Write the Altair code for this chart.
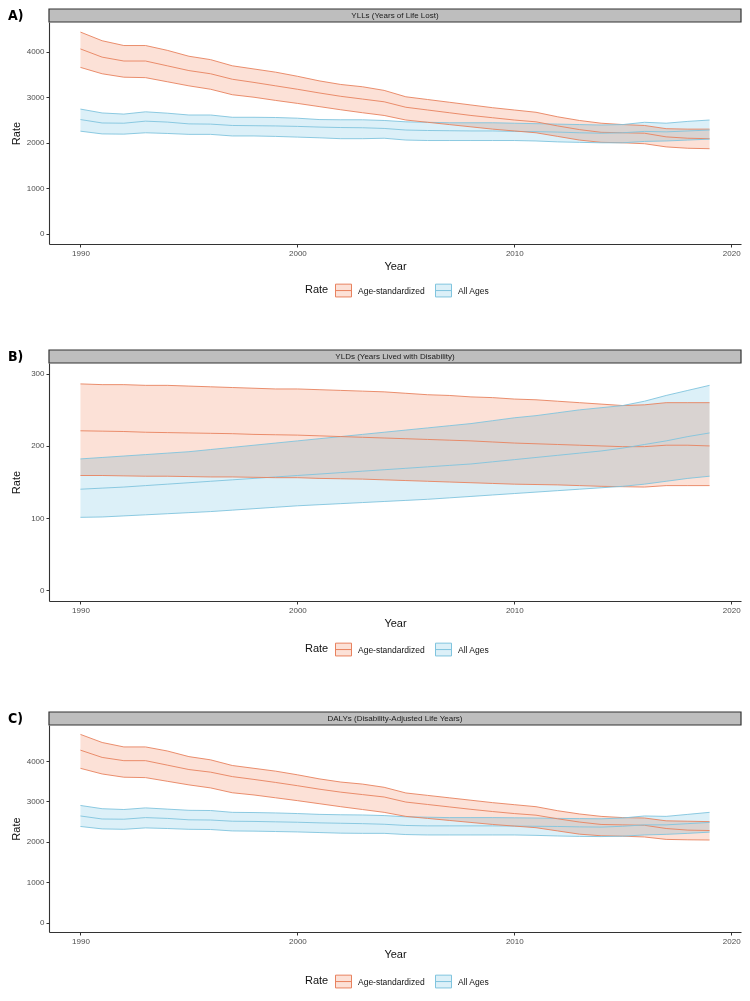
import altair as alt
import pandas as pd

years = list(range(1990, 2020))
rates = ["Age-standardized", "All Ages"]

# ---- A) YLLs
yll_as_upper = [4430, 4240, 4135, 4135, 4030, 3900, 3825, 3690, 3620, 3550, 3460, 3360, 3280, 3230, 3150,
                3010, 2950, 2890, 2830, 2770, 2720, 2670, 2570, 2490, 2430, 2400, 2380, 2310, 2300, 2300]
yll_as_mean = [4060, 3880, 3795, 3795, 3690, 3585, 3515, 3395, 3325, 3250, 3175, 3095, 3020, 2960, 2900,
               2780, 2720, 2660, 2600, 2550, 2500, 2460, 2370, 2290, 2230, 2220, 2210, 2130, 2100, 2090]
yll_as_lower = [3655, 3515, 3440, 3430, 3340, 3250, 3175, 3055, 3000, 2930, 2865, 2795, 2725, 2660, 2600,
                2500, 2450, 2400, 2350, 2300, 2260, 2220, 2140, 2060, 2010, 2000, 1980, 1910, 1880, 1870]
yll_aa_upper = [2740, 2655, 2630, 2680, 2650, 2610, 2610, 2560, 2560, 2555, 2540, 2510, 2505, 2505, 2490,
                2460, 2450, 2440, 2440, 2440, 2430, 2420, 2410, 2400, 2390, 2400, 2450, 2430, 2470, 2500]
yll_aa_mean = [2510, 2435, 2430, 2475, 2455, 2415, 2410, 2380, 2375, 2370, 2360, 2345, 2335, 2330, 2315,
               2280, 2270, 2265, 2260, 2260, 2250, 2245, 2235, 2220, 2210, 2220, 2250, 2240, 2260, 2280]
yll_aa_lower = [2255, 2195, 2190, 2220, 2205, 2185, 2185, 2150, 2150, 2140, 2125, 2110, 2090, 2090, 2100,
                2060, 2050, 2050, 2050, 2050, 2050, 2040, 2020, 2010, 2000, 2000, 2030, 2040, 2060, 2080]

# ---- B) YLDs
yld_as_upper = [286, 285, 285, 284, 284, 283, 282, 281, 280, 279, 279, 278, 277, 276, 275,
                273, 271, 270, 268, 267, 265, 264, 262, 260, 258, 256, 257, 260, 260, 260]
yld_as_mean = [221, 220.5, 220, 219, 218.5, 218, 217.5, 217, 216, 215.5, 215, 214, 213, 212, 211,
               210, 209, 208, 207, 205.5, 204, 203, 202, 201, 200, 199, 199, 201, 201, 200]
yld_as_lower = [159, 159, 158.5, 158, 158, 157.5, 157, 157, 156.5, 156, 156, 155, 154.5, 154, 153,
                152, 151, 150, 149, 148, 147, 146.5, 146, 145, 144, 143.5, 143, 145, 145, 145]
yld_aa_upper = [182, 184, 186, 188, 190, 192, 195, 198, 201, 204, 207, 210, 213, 216, 219,
                222, 225, 228, 231, 235, 239, 242, 246, 250, 253, 256, 262, 270, 277, 284]
yld_aa_mean = [140, 141.5, 143, 145, 147, 149, 151, 153, 155, 157, 159, 161, 163, 165, 167,
               169, 171, 173, 175, 178, 181, 184, 187, 190, 193, 197, 202, 207, 213, 218]
yld_aa_lower = [101, 101.5, 103, 104.5, 106, 107.5, 109, 111, 113, 115, 117, 118.5, 120, 121.5, 123,
                124.5, 126, 128, 130, 132, 134, 136, 138, 140, 142, 144, 147, 151, 155, 158]

# ---- C) DALYs
daly_as_upper = [4660, 4460, 4350, 4350, 4250, 4110, 4030, 3890, 3820, 3750, 3660, 3560, 3480, 3430, 3350,
                 3210, 3150, 3090, 3030, 2970, 2920, 2870, 2770, 2690, 2630, 2600, 2590, 2520, 2510, 2500]
daly_as_mean = [4270, 4090, 4010, 4010, 3900, 3790, 3725, 3615, 3545, 3470, 3390, 3305, 3230, 3170, 3110,
                2985, 2925, 2865, 2805, 2750, 2700, 2660, 2570, 2490, 2430, 2420, 2410, 2330, 2290, 2280]
daly_as_lower = [3820, 3680, 3600, 3590, 3500, 3410, 3335, 3215, 3160, 3090, 3020, 2945, 2870, 2800, 2730,
                 2630, 2580, 2530, 2480, 2430, 2390, 2350, 2270, 2190, 2150, 2140, 2120, 2060, 2050, 2045]
daly_aa_upper = [2900, 2820, 2800, 2840, 2810, 2780, 2775, 2730, 2725, 2715, 2700, 2680, 2670, 2665, 2650,
                 2620, 2610, 2600, 2600, 2600, 2595, 2590, 2580, 2575, 2570, 2590, 2640, 2630, 2680, 2730]
daly_aa_mean = [2640, 2565, 2560, 2600, 2580, 2545, 2540, 2510, 2505, 2495, 2485, 2470, 2460, 2450, 2435,
                2405, 2395, 2395, 2395, 2395, 2390, 2385, 2380, 2370, 2365, 2385, 2420, 2420, 2450, 2480]
daly_aa_lower = [2380, 2320, 2310, 2345, 2330, 2310, 2305, 2270, 2265, 2255, 2245, 2230, 2215, 2210, 2210,
                 2180, 2170, 2170, 2170, 2170, 2170, 2160, 2145, 2135, 2130, 2140, 2170, 2185, 2210, 2240]

x_ticks = [1990, 2000, 2010, 2020]
FONT = "Liberation Sans"
W = 692

fill_scale = alt.Scale(domain=rates, range=["#FCE1D7", "#DCF0F8"])
stroke_scale = alt.Scale(domain=rates, range=["#E8825F", "#80C4DE"])


def frame(as_l, as_m, as_u, aa_l, aa_m, aa_u):
    rows = []
    for r, (lo, me, up) in zip(rates, [(as_l, as_m, as_u), (aa_l, aa_m, aa_u)]):
        for yr, a, b, c in zip(years, lo, me, up):
            rows.append({"Year": yr, "Rate": r, "lower": a, "mean": b, "upper": c})
    return pd.DataFrame(rows)


def panel(df, title, letter, yvals, ydom, H, legend_y, extend=None):
    base = alt.Chart(df)
    x = alt.X("Year:Q", title="Year",
              scale=alt.Scale(domain=[1988.55, 2020.45], nice=False, zero=False),
              axis=alt.Axis(values=x_ticks, format="d"))
    yscale = alt.Scale(domain=ydom, nice=False, zero=False)
    yaxis = alt.Axis(values=yvals, format="d", titleX=-28, titleY=H / 2,
                     titleBaseline="bottom", titleAngle=270)
    leg = alt.Legend(title="Rate", orient="none", legendX=256, legendY=legend_y,
                     direction="horizontal", titleOrient="left",
                     symbolType="M-1,-0.8H1V0.8H-1Z M-1,0H1", symbolSize=256,
                     symbolStrokeWidth=1, labelFontSize=8.5, labelFont=FONT, labelColor="#111111",
                     titleFontSize=11, titleFont=FONT, titleFontWeight="normal", titleColor="#111111",
                     titlePadding=6, columnPadding=8, labelOffset=6)
    area = base.mark_area(blend="multiply").encode(
        x=x,
        y=alt.Y("lower:Q", title="Rate", scale=yscale, axis=yaxis),
        y2="upper:Q",
        fill=alt.Fill("Rate:N", scale=fill_scale, legend=leg),
    )
    lines = [
        base.mark_line(strokeWidth=0.9).encode(
            x=x,
            y=alt.Y(f"{c}:Q", title="Rate", scale=yscale, axis=yaxis),
            stroke=alt.Stroke("Rate:N", scale=stroke_scale, legend=leg),
        )
        for c in ["upper", "mean", "lower"]
    ]
    sdf = pd.DataFrame({"t": [title]})
    rect = alt.Chart(sdf).mark_rect(fill="#BEBEBE", stroke="#333333", strokeWidth=1.2).encode(
        x=alt.value(0), x2=alt.value(W), y=alt.value(-13), y2=alt.value(0))
    stext = alt.Chart(sdf).mark_text(fontSize=8, color="#1A1A1A", font=FONT, baseline="middle").encode(
        text="t:N", x=alt.value(W / 2), y=alt.value(-6.5))
    lt = alt.Chart(pd.DataFrame({"t": [letter]})).mark_text(
        fontSize=14, fontWeight="bold", font="DejaVu Sans Condensed, Liberation Sans, sans-serif",
        align="left", baseline="middle", color="#000000").encode(
        text="t:N", x=alt.value(-41), y=alt.value(-6.5))
    layers = [area] + lines + [rect, stext, lt]
    if extend is not None:
        ext = alt.Chart(sdf).mark_rule(opacity=0).encode(
            x=alt.value(0), y=alt.value(extend - 1), y2=alt.value(extend))
        layers.append(ext)
    return alt.layer(*layers).properties(width=W, height=H)


pa = panel(frame(yll_as_lower, yll_as_mean, yll_as_upper, yll_aa_lower, yll_aa_mean, yll_aa_upper),
           "YLLs (Years of Life Lost)", "A)", [0, 1000, 2000, 3000, 4000], [-221.5, 4651.5], 222, 260)
pb = panel(frame(yld_as_lower, yld_as_mean, yld_as_upper, yld_aa_lower, yld_aa_mean, yld_aa_upper),
           "YLDs (Years Lived with Disability)", "B)", [0, 100, 200, 300], [-15, 315], 238, 278, extend=298)
pc = panel(frame(daly_as_lower, daly_as_mean, daly_as_upper, daly_aa_lower, daly_aa_mean, daly_aa_upper),
           "DALYs (Disability-Adjusted Life Years)", "C)", [0, 1000, 2000, 3000, 4000], [-233, 4893], 207, 248)

chart = alt.vconcat(pa, pb, pc, spacing=50).resolve_scale(
    fill="independent", stroke="independent", x="independent", y="independent"
).resolve_legend(fill="independent", stroke="independent").properties(padding=0).configure_view(
    stroke=None
).configure_axis(
    grid=False, domainColor="#333333", domainWidth=1.1, tickColor="#333333", tickSize=3,
    labelColor="#4D4D4D", labelFontSize=8, labelFont=FONT, labelPadding=2,
    titleFont=FONT, titleFontSize=11, titleFontWeight="normal", titleColor="#111111", titlePadding=3
)

chart.save("out.html", embed_options={"renderer": "svg", "actions": False})
